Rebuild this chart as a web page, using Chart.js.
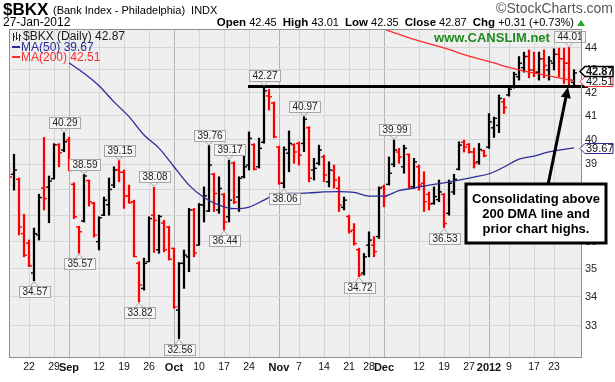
<!DOCTYPE html>
<html>
<head>
<meta charset="utf-8">
<title>$BKX daily</title>
<script src="https://cdn.jsdelivr.net/npm/chart.js@4.4.1/dist/chart.umd.min.js"></script>
<style>
  html, body { margin: 0; padding: 0; background: #fff; }
  #wrap { width: 615px; height: 382px; }
</style>
</head>
<body>
<div id="wrap"><canvas id="chart" width="615" height="382"></canvas></div>
<script>
/* ═══════════════════════════════════════════════════════════════
   $BKX (Bank Index - Philadelphia) — daily OHLC bars, 50/200 DMA
   ═══════════════════════════════════════════════════════════════ */

// x = trading-day number, 0 = 22 Aug 2011, 105 = 23 Jan 2012
const firstDay = -4;
const prevClose = 38.90;   // close of the session before the first bar

const opens = [
  38.70, 38.60, 38.40, 36.30, 35.94, 34.85, 36.25, 38.05, 38.09, 38.42,
  39.80, 39.58, 39.99, 38.20, 36.55, 36.78, 38.35, 37.46, 36.00, 37.00,
  37.40, 38.17, 38.77, 38.68, 37.75, 37.52, 35.20, 34.30, 35.26, 37.00,
  35.70, 36.70, 36.55, 35.75, 33.54, 35.20, 35.44, 37.20, 35.87, 37.39,
  37.16, 38.60, 37.20, 37.80, 36.94, 39.05, 37.70, 38.50, 38.97, 39.80,
  38.90, 39.90, 41.86, 41.55, 39.70, 38.24, 39.45, 39.80, 39.85, 39.85,
  40.50, 38.77, 39.04, 39.30, 38.30, 38.75, 38.04, 37.30, 36.95, 36.43,
  35.70, 34.85, 35.87, 35.87, 36.19, 38.10, 38.20, 39.00, 39.50, 38.90,
  39.40, 38.10, 38.90, 38.24, 37.80, 37.45, 37.60, 37.80, 37.07, 37.90,
  38.80, 39.90, 39.80, 39.50, 39.10, 39.55, 39.70, 40.50, 40.60, 41.60,
  41.90, 42.25, 42.70, 43.10, 43.60, 43.00, 42.90, 43.50, 43.00, 43.30,
  43.70, 43.50, 43.30, 42.45
];
const highs = [
  38.90, 39.41, 38.45, 37.04, 36.06, 36.51, 37.81, 40.10, 38.53, 39.84,
  39.84, 40.29, 40.10, 38.26, 36.58, 38.59, 38.37, 37.50, 36.94, 37.70,
  38.45, 38.90, 39.15, 38.77, 38.17, 37.58, 35.26, 35.39, 36.94, 38.08,
  37.00, 36.81, 36.58, 35.76, 35.23, 35.69, 37.26, 37.26, 37.45, 38.10,
  39.76, 38.64, 38.50, 37.84, 39.17, 39.10, 38.50, 39.78, 40.33, 39.84,
  40.07, 42.27, 42.14, 41.60, 39.74, 39.71, 40.37, 39.84, 39.91, 40.97,
  40.55, 39.24, 39.78, 39.37, 39.10, 38.97, 38.50, 37.70, 37.00, 36.68,
  35.76, 35.56, 36.37, 36.19, 38.10, 38.17, 39.30, 39.99, 39.65, 39.78,
  39.42, 39.24, 38.97, 38.70, 37.90, 38.10, 38.37, 37.84, 38.37, 38.60,
  39.92, 39.99, 39.85, 39.66, 39.85, 39.58, 41.10, 40.95, 41.90, 41.75,
  42.25, 42.90, 43.60, 43.80, 43.90, 43.80, 43.80, 43.90, 43.60, 43.95,
  43.98, 43.98, 44.01, 43.01
];
const lows = [
  38.20, 37.97, 36.25, 35.44, 35.08, 34.57, 36.06, 37.20, 36.71, 38.41,
  38.90, 39.51, 38.74, 36.87, 35.57, 36.74, 37.35, 36.17, 35.69, 36.98,
  37.00, 38.07, 38.30, 37.26, 37.46, 35.44, 33.82, 34.24, 35.26, 35.60,
  35.57, 35.62, 35.32, 33.60, 32.56, 34.30, 34.90, 35.44, 35.87, 36.74,
  37.14, 37.14, 37.07, 36.44, 36.74, 37.45, 37.14, 38.45, 38.77, 38.77,
  38.85, 39.86, 41.25, 40.08, 38.20, 38.06, 38.70, 39.04, 38.97, 39.51,
  38.30, 38.37, 38.97, 38.30, 38.10, 38.05, 37.14, 37.20, 36.32, 35.87,
  34.72, 34.78, 35.44, 35.44, 36.12, 37.32, 38.17, 38.90, 39.04, 38.64,
  38.04, 38.04, 37.97, 37.14, 37.20, 37.42, 37.52, 36.53, 37.00, 37.80,
  38.77, 39.50, 39.45, 38.85, 39.00, 39.30, 39.65, 40.10, 40.30, 41.10,
  41.85, 42.20, 42.55, 42.90, 42.65, 42.70, 42.55, 42.65, 42.55, 43.00,
  42.70, 42.40, 42.30, 42.35
];
const closes = [
  38.49, 38.77, 36.55, 35.50, 35.11, 36.30, 37.68, 37.64, 38.33, 39.80,
  39.47, 39.92, 38.75, 36.94, 36.37, 38.53, 37.52, 36.25, 36.90, 37.58,
  38.00, 38.77, 38.68, 37.74, 37.48, 35.45, 34.42, 35.20, 36.87, 36.80,
  36.95, 35.70, 35.35, 33.65, 35.20, 35.50, 37.20, 35.58, 37.40, 37.75,
  38.97, 37.84, 38.04, 36.74, 37.58, 37.50, 38.44, 38.90, 40.06, 38.80,
  39.65, 42.08, 41.82, 40.12, 38.25, 39.60, 39.85, 39.50, 39.37, 40.86,
  38.44, 38.84, 39.58, 38.57, 38.77, 38.37, 37.39, 37.58, 36.38, 35.93,
  34.78, 35.44, 36.06, 35.63, 38.05, 37.72, 38.64, 39.58, 39.30, 39.65,
  38.10, 39.10, 38.17, 37.52, 37.43, 37.72, 37.90, 36.68, 38.24, 38.40,
  39.78, 39.70, 39.50, 39.05, 39.60, 39.35, 40.75, 40.90, 41.75, 41.36,
  42.15, 42.80, 43.30, 43.60, 43.00, 42.90, 43.50, 43.20, 43.40, 43.70,
  43.50, 43.30, 42.56, 42.87
];

// moving averages
const ma50Days = [8, 11, 14, 17, 20, 23, 26, 29, 32, 35, 38, 41, 44, 47, 50, 53, 56,
                  59, 62, 65, 68, 71, 74, 77, 80, 83, 86, 89, 92, 95, 98, 101, 104, 109];
const ma50 = [43.32, 42.85, 42.30, 41.60, 40.97, 40.20, 39.66, 38.90, 38.17, 37.68, 37.39,
              37.25, 37.31, 37.58, 37.84, 37.84, 37.86, 37.90, 37.91, 37.88, 37.74, 37.74,
              37.95, 38.05, 38.17, 38.26, 38.37, 38.49, 38.62, 38.89, 39.21, 39.33, 39.50, 39.67];
const ma200Days = [69, 72, 75, 78, 81, 84, 87, 90, 93, 96, 99, 102, 105, 109];
const ma200 = [45.05, 44.77, 44.53, 44.31, 44.12, 43.92, 43.69, 43.49, 43.31, 43.11,
               42.95, 42.82, 42.69, 42.51];

// flagged swing highs / lows (trading-day numbers)
const highFlags = [7, 11, 18, 25, 36, 40, 47, 55, 73, 108];
const lowFlags = [1, 10, 22, 30, 39, 51, 66, 83];

// hand-drawn resistance line at the October high
const resistance = 42.27;
const resistanceDays = [43.8, 111.8];

// axes
const tickDays = [0, 5, 8, 14, 19, 24, 29, 34, 39, 44, 50, 54, 59, 64, 68, 71, 78, 83, 88, 92, 96, 101, 105];
const tickLabels = ['22', '29', 'Sep', '12', '19', '26', 'Oct', '10', '17', '24', 'Nov', '7', '14',
                    '21', '28', 'Dec', '12', '19', '27', '2012', '9', '17', '23'];
const monthDays = [8, 29, 50, 71, 92];
const priceTicks = [33, 34, 35, 36, 37, 38, 39, 40, 41, 42, 43, 44];

const note = ['Consolidating above', '200 DMA line and', 'prior chart highs.'];

/* ─────────────────────────────────────────────────────────────── */

const FONT = '"Liberation Sans", Arial, sans-serif';
const colors = {
  up: '#000000',
  down: '#ff0000',
  ma50: '#2b2b9c',
  ma200: '#ff2a2a',
  plotBg: '#efefef',
  grid: '#d6d6d6',
  gridMonth: '#b4b4b4',
  frame: '#8f8f8f',
  text: '#1a1a1a'
};

const days = closes.map((_, k) => firstDay + k);
const barColors = closes.map((c, k) => c > (k ? closes[k - 1] : prevClose) ? colors.up : colors.down);
const last = closes.length - 1;

function fmt(v) { return v.toFixed(2); }

/** small grey price flag with a pointer to the bar end */
function flag(ctx, x, yTip, text, above) {
  ctx.font = '10px ' + FONT;
  const w = Math.ceil(ctx.measureText(text).width) + 5;
  const h = 11, gap = 5;
  const left = Math.round(x - w / 2) + 0.5;
  const top = above ? Math.round(yTip - gap - h) + 0.5 : Math.round(yTip + gap) + 0.5;
  const edge = above ? top + h : top;
  ctx.lineWidth = 1;
  ctx.strokeStyle = '#a6a6a6';
  ctx.fillStyle = '#f6f6f6';
  ctx.beginPath();
  ctx.moveTo(x - 4, edge);
  ctx.lineTo(x, above ? yTip - 1 : yTip + 1);
  ctx.lineTo(x + 4, edge);
  ctx.fill();
  ctx.stroke();
  ctx.fillRect(left, top, w, h);
  ctx.strokeRect(left, top, w, h);
  ctx.fillStyle = colors.text;
  ctx.textAlign = 'center';
  ctx.textBaseline = 'middle';
  ctx.fillText(text, left + w / 2, top + h / 2 + 0.5);
}

/** value tag on the right axis */
function tag(ctx, y, text, border, bold) {
  const x0 = 580, x1 = 585, x2 = 613, h = 10;
  y = Math.round(y) + 0.5;
  ctx.beginPath();
  ctx.moveTo(x0, y);
  ctx.lineTo(x1, y - h / 2);
  ctx.lineTo(x2, y - h / 2);
  ctx.lineTo(x2, y + h / 2);
  ctx.lineTo(x1, y + h / 2);
  ctx.closePath();
  ctx.fillStyle = '#ffffff';
  ctx.fill();
  ctx.strokeStyle = border;
  ctx.lineWidth = bold ? 1.5 : 1;
  ctx.stroke();
  ctx.font = (bold ? 'bold ' : '') + '11px ' + FONT;
  ctx.fillStyle = '#111';
  ctx.textAlign = 'left';
  ctx.textBaseline = 'middle';
  ctx.fillText(text, x1 + 1, y + 0.5);
  return y;
}

const decor = {
  id: 'decor',

  beforeDraw(chart) {
    const { ctx, chartArea: a } = chart;
    ctx.save();
    ctx.fillStyle = '#ffffff';
    ctx.fillRect(0, 0, chart.width, chart.height);
    ctx.fillStyle = colors.plotBg;
    ctx.fillRect(a.left, a.top, a.right - a.left, a.bottom - a.top);
    ctx.restore();
  },

  afterDatasetsDraw(chart) {
    const { ctx } = chart;
    const xs = chart.scales.x, ys = chart.scales.y;
    ctx.save();
    highFlags.forEach(d => {
      const k = d - firstDay;
      flag(ctx, xs.getPixelForValue(d), ys.getPixelForValue(highs[k]), fmt(highs[k]), true);
    });
    lowFlags.forEach(d => {
      const k = d - firstDay;
      flag(ctx, xs.getPixelForValue(d), ys.getPixelForValue(lows[k]), fmt(lows[k]), false);
    });
    ctx.restore();
  },

  afterDraw(chart) {
    const { ctx, chartArea: a } = chart;
    const ys = chart.scales.y;
    ctx.save();

    // frame
    ctx.strokeStyle = colors.frame;
    ctx.lineWidth = 1;
    ctx.strokeRect(a.left + 0.5, a.top + 0.5, a.right - a.left - 1, a.bottom - a.top);

    // legend block
    ctx.textAlign = 'left';
    ctx.textBaseline = 'middle';
    ctx.font = '12px ' + FONT;
    ctx.strokeStyle = '#222';
    ctx.beginPath();
    [[13, 33, 41, 36], [16, 32, 40, 38], [19, 34, 41, 35]].forEach(([x, t, b, c]) => {
      ctx.moveTo(x + 0.5, t); ctx.lineTo(x + 0.5, b);
      ctx.moveTo(x + 0.5, c + 0.5); ctx.lineTo(x + 2, c + 0.5);
    });
    ctx.stroke();
    ctx.fillStyle = colors.text;
    ctx.fillText('$BKX (Daily) ' + fmt(closes[last]), 23, 37);
    ctx.fillStyle = colors.ma50;
    ctx.fillRect(12, 46, 8, 2);
    ctx.fillText('MA(50) ' + fmt(ma50[ma50.length - 1]), 21, 47.5);
    ctx.fillStyle = colors.ma200;
    ctx.fillRect(12, 56, 8, 2);
    ctx.fillText('MA(200) ' + fmt(ma200[ma200.length - 1]), 21, 57.5);

    ctx.font = 'bold 13px ' + FONT;
    ctx.fillStyle = '#1f8a1f';
    ctx.textAlign = 'center';
    ctx.fillText('www.CANSLIM.net', 492, 38.5);

    // right-axis tags
    const y200 = tag(ctx, ys.getPixelForValue(ma200[ma200.length - 1]), fmt(ma200[ma200.length - 1]), colors.ma200, false);
    tag(ctx, ys.getPixelForValue(ma50[ma50.length - 1]), fmt(ma50[ma50.length - 1]), colors.ma50, false);
    tag(ctx, Math.min(ys.getPixelForValue(closes[last]), y200 - 10.5), fmt(closes[last]), '#000', true);

    // arrow + note box
    const tail = [548, 185], tip = [568, 87];
    const dx = tip[0] - tail[0], dy = tip[1] - tail[1], len = Math.hypot(dx, dy);
    const ux = dx / len, uy = dy / len;
    const bx = tip[0] - ux * 11, by = tip[1] - uy * 11;
    ctx.strokeStyle = '#000';
    ctx.lineWidth = 3;
    ctx.beginPath();
    ctx.moveTo(tail[0], tail[1]);
    ctx.lineTo(bx, by);
    ctx.stroke();
    ctx.fillStyle = '#000';
    ctx.beginPath();
    ctx.moveTo(tip[0], tip[1]);
    ctx.lineTo(bx - uy * 5, by + ux * 5);
    ctx.lineTo(bx + uy * 5, by - ux * 5);
    ctx.closePath();
    ctx.fill();

    ctx.fillStyle = '#ffffff';
    ctx.fillRect(466, 184, 140, 59);
    ctx.strokeRect(466, 184, 140, 59);
    ctx.fillStyle = '#000';
    ctx.font = 'bold 13px ' + FONT;
    ctx.textAlign = 'center';
    note.forEach((line, k) => ctx.fillText(line, 536, 199 + k * 15));

    // header
    ctx.textAlign = 'left';
    ctx.fillStyle = '#000';
    ctx.font = 'bold 17px ' + FONT;
    ctx.fillText('$BKX', 3, 10);
    ctx.font = '11px ' + FONT;
    const title = '(Bank Index - Philadelphia)';
    ctx.fillText(title, 53, 10.5);
    ctx.fillText('INDX', 53 + ctx.measureText(title).width + 6, 10.5);
    ctx.font = '12px ' + FONT;
    ctx.fillText('27-Jan-2012', 3, 23);

    ctx.textAlign = 'right';
    ctx.fillStyle = '#555';
    ctx.font = '14px ' + FONT;
    ctx.fillText('\u00a9StockCharts.com', 613, 9);

    const chg = closes[last] - closes[last - 1];
    const pct = chg / closes[last - 1] * 100;
    const parts = [
      ['Open', 1], [' ' + fmt(opens[last]) + '  ', 0],
      ['High', 1], [' ' + fmt(highs[last]) + '  ', 0],
      ['Low', 1], [' ' + fmt(lows[last]) + '  ', 0],
      ['Close', 1], [' ' + fmt(closes[last]) + '  ', 0],
      ['Chg', 1], [' +' + fmt(chg) + ' (+' + fmt(pct) + '%)', 0]
    ];
    const fontOf = b => (b ? 'bold 11.5px ' : '11px ') + FONT;
    let total = 0;
    parts.forEach(([t, b]) => { ctx.font = fontOf(b); total += ctx.measureText(t).width; });
    let x = 574 - total;
    ctx.textAlign = 'left';
    ctx.fillStyle = '#000';
    parts.forEach(([t, b]) => {
      ctx.font = fontOf(b);
      ctx.fillText(t, x, 23);
      x += ctx.measureText(t).width;
    });
    ctx.fillStyle = '#22aa22';
    ctx.beginPath();
    ctx.moveTo(577, 26); ctx.lineTo(581, 20); ctx.lineTo(585, 26);
    ctx.closePath();
    ctx.fill();

    ctx.restore();
  }
};

Chart.defaults.font.family = FONT;

new Chart(document.getElementById('chart'), {
  type: 'scatter',
  data: {
    datasets: [
      {
        type: 'line',
        data: resistanceDays.map(d => ({ x: d, y: resistance })),
        borderColor: '#000',
        borderWidth: 3,
        pointRadius: 0,
        clip: false
      },
      {
        type: 'line',
        data: ma50Days.map((d, k) => ({ x: d, y: ma50[k] })),
        borderColor: colors.ma50,
        borderWidth: 1.3,
        pointRadius: 0,
        cubicInterpolationMode: 'monotone'
      },
      {
        type: 'line',
        data: ma200Days.map((d, k) => ({ x: d, y: ma200[k] })),
        borderColor: colors.ma200,
        borderWidth: 1.3,
        pointRadius: 0,
        cubicInterpolationMode: 'monotone'
      },
      {
        // open ticks (left)
        type: 'scatter',
        data: days.map((d, k) => ({ x: d - 0.3, y: opens[k] })),
        pointStyle: 'line',
        pointRadius: 1.5,
        pointBorderWidth: 1.4,
        pointBorderColor: barColors
      },
      {
        // close ticks (right)
        type: 'scatter',
        data: days.map((d, k) => ({ x: d + 0.3, y: closes[k] })),
        pointStyle: 'line',
        pointRadius: 1.5,
        pointBorderWidth: 1.4,
        pointBorderColor: barColors
      },
      {
        // high-low range
        type: 'bar',
        data: days.map((d, k) => ({ x: d, y: [lows[k], highs[k]] })),
        backgroundColor: barColors,
        borderWidth: 0,
        barThickness: 1.6
      }
    ]
  },
  options: {
    responsive: false,
    devicePixelRatio: 1,
    animation: false,
    events: [],
    layout: { padding: { left: 9, top: 29, right: 0, bottom: 0 } },
    plugins: {
      legend: { display: false },
      tooltip: { enabled: false }
    },
    scales: {
      x: {
        type: 'linear',
        position: 'bottom',
        min: firstDay,
        max: 110.6,
        bounds: 'data',
        offset: false,
        afterBuildTicks: s => { s.ticks = tickDays.map(v => ({ value: v })); },
        afterFit: s => { s.height = 25; },
        border: { display: false },
        grid: {
          offset: false,
          drawTicks: false,
          color: c => (c.tick && monthDays.includes(c.tick.value)) ? colors.gridMonth : colors.grid
        },
        ticks: {
          autoSkip: false,
          maxRotation: 0,
          padding: 4,
          color: '#111',
          font: c => (c.tick && monthDays.includes(c.tick.value))
            ? { size: 11, weight: 'bold' } : { size: 10.5 },
          callback: v => {
            const k = tickDays.indexOf(v);
            return k < 0 ? '' : tickLabels[k];
          }
        }
      },
      y: {
        type: 'logarithmic',
        position: 'right',
        min: 31.95,
        max: 44.86,
        bounds: 'data',
        afterBuildTicks: s => { s.ticks = priceTicks.map(v => ({ value: v })); },
        afterFit: s => { s.width = 33; },
        border: { display: false },
        grid: { drawTicks: false, color: colors.grid },
        ticks: {
          padding: 3,
          color: '#222',
          font: { size: 11 },
          callback: v => String(v)
        }
      }
    }
  },
  plugins: [decor]
});
</script>
</body>
</html>
